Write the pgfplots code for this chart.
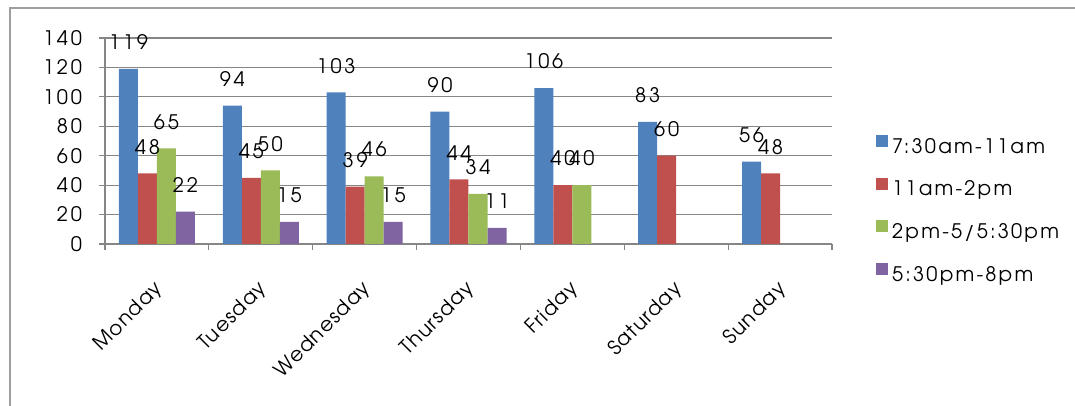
\documentclass[border=0pt]{standalone}
\usepackage{fontspec}
\setmainfont{TeX Gyre Adventor}[LetterSpace=6]
\newfontfamily\numfont{TeX Gyre Adventor}[LetterSpace=14]
\newfontfamily\legfont{TeX Gyre Adventor}[LetterSpace=11]
\usepackage{pgfplots}
\pgfplotsset{compat=1.18}
\definecolor{cblue}{HTML}{4F81BD}
\definecolor{cred}{HTML}{C0504D}
\definecolor{cgreen}{HTML}{9BBB59}
\definecolor{cpurple}{HTML}{8064A2}
\definecolor{cgrid}{HTML}{868686}
\begin{document}
\begin{tikzpicture}[x=1pt,y=1pt]
\path[use as bounding box] (0,0) rectangle (537.5,203);
\draw[color=cgrid!80, line width=1pt] (5,-2) -- (5,199) -- (540,199);
\begin{axis}[
  at={(52.5pt,81pt)}, anchor=south west,
  scale only axis, width=363.5pt, height=103pt,
  ybar=0pt, bar width=0.183,
  xmin=-0.5, xmax=6.5, ymin=0, ymax=140,
  ytick={0,20,...,140},
  xtick={-0.5,0.5,...,6.5}, xticklabels={},
  extra x ticks={0,1,2,3,4,5,6},
  extra x tick labels={Monday,Tuesday,Wednesday,Thursday,Friday,Saturday,Sunday},
  extra x tick style={major tick length=0pt, grid=none,
     tick label style={xshift=-2pt, yshift=-16pt, rotate=45, anchor=north east, inner sep=1pt}},
  axis x line*=bottom, axis y line*=left,
  axis line style={-, draw=cgrid, line width=0.6pt},
  tick style={draw=cgrid, line width=0.6pt},
  tick align=outside, major tick length=3pt,
  ymajorgrids, grid style={draw=cgrid, line width=0.6pt},
  tick label style={font=\fontsize{10}{12}\selectfont, black},
  yticklabel style={xshift=-5pt, font=\fontsize{10}{12}\selectfont\numfont},
  /pgf/number format/assume math mode=true,
  nodes near coords,
  every node near coord/.append style={font=\fontsize{10}{12}\selectfont\numfont, black, yshift=6pt},
  legend style={at={(1.052,0.555)}, anchor=north west, draw=none, fill=none,
     font=\fontsize{10}{12}\selectfont\legfont, row sep=8.3pt},
  legend cell align=left,
  legend image code/.code={\fill[#1] (0pt,0pt) rectangle (6pt,6pt);},
]
\addplot[fill=cblue, draw=none] coordinates {(0,119) (1,94) (2,103) (3,90) (4,106) (5,83) (6,56)};
\addplot[fill=cred, draw=none] coordinates {(0,48) (1,45) (2,39) (3,44) (4,40) (5,60) (6,48)};
\addplot[fill=cgreen, draw=none] coordinates {(0,65) (1,50) (2,46) (3,34) (4,40)};
\addplot[fill=cpurple, draw=none] coordinates {(0,22) (1,15) (2,15) (3,11)};
\legend{7:30am-11am, 11am-2pm, 2pm-5/5:30pm, 5:30pm-8pm}
\end{axis}
\end{tikzpicture}
\end{document}
